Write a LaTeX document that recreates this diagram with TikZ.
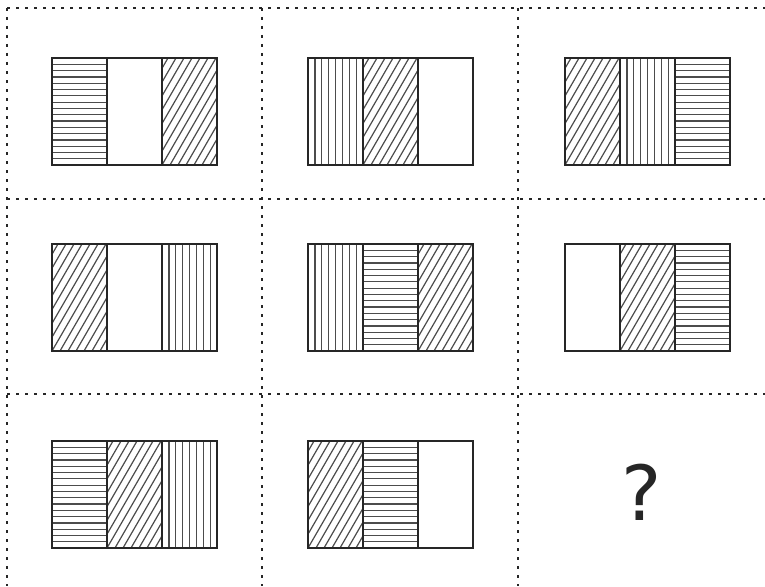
\documentclass[tikz,border=0pt]{standalone}
\usepackage{fontspec}
\newfontfamily\askfont{DejaVu Sans}
\usepackage{tikz}
\usetikzlibrary{positioning}

\tikzset{
  gridline/.style={line width=2.8pt, dash pattern=on 2.8pt off 6.2pt, black!85},
  frameline/.style={line width=2.4pt, black!85},
  hatchline/.style={line width=1.2pt, black!70}
}

% one strip of the figure: left x, top y
\newcommand{\hpanel}[2]{%
  \begin{scope}
    \clip (#1,#2) rectangle ++(55,107);
    \foreach \k in {1,...,16} \draw[hatchline] (#1,#2+\k*6.3) -- ++(55,0);
  \end{scope}
  \draw[frameline] (#1,#2) rectangle ++(55,107);}
\newcommand{\vpanel}[2]{%
  \begin{scope}
    \clip (#1,#2) rectangle ++(55,107);
    \foreach \k in {1,...,7} \draw[hatchline] (#1+\k*6.9,#2) -- ++(0,107);
  \end{scope}
  \draw[frameline] (#1,#2) rectangle ++(55,107);}
\newcommand{\dpanel}[2]{%
  \begin{scope}
    \clip (#1,#2) rectangle ++(55,107);
    \foreach \k in {-9,...,8} \draw[hatchline] (#1+\k*8,#2+107) -- ++(62,-107);
  \end{scope}
  \draw[frameline] (#1,#2) rectangle ++(55,107);}
\newcommand{\epanel}[2]{%
  \draw[frameline] (#1,#2) rectangle ++(55,107);}

% three strips side by side
\newcommand{\tripanel}[5]{%
  #3{#1}{#2}%
  #4{\the\numexpr#1+55\relax}{#2}%
  #5{\the\numexpr#1+110\relax}{#2}}

\begin{document}
\begin{tikzpicture}[x=1pt, y=-1pt]
  \useasboundingbox[fill=white] (0,0) rectangle (765,586);

  % Dotted grid
  \draw[gridline] (7,8) -- (765,8);
  \draw[gridline] (7,199) -- (765,199);
  \draw[gridline] (7,394) -- (765,394);
  \draw[gridline] (7,8) -- (7,586);
  \draw[gridline] (262,8) -- (262,586);
  \draw[gridline] (518,8) -- (518,586);

  % --- Row 1 ---
  \tripanel{52}{58}{\hpanel}{\epanel}{\dpanel}
  \tripanel{308}{58}{\vpanel}{\dpanel}{\epanel}
  \tripanel{565}{58}{\dpanel}{\vpanel}{\hpanel}

  % --- Row 2 ---
  \tripanel{52}{244}{\dpanel}{\epanel}{\vpanel}
  \tripanel{308}{244}{\vpanel}{\hpanel}{\dpanel}
  \tripanel{565}{244}{\epanel}{\dpanel}{\hpanel}

  % --- Row 3 ---
  \tripanel{52}{441}{\hpanel}{\dpanel}{\vpanel}
  \tripanel{308}{441}{\dpanel}{\hpanel}{\epanel}

  % Missing figure
  \node[font=\askfont\fontsize{76}{76}\selectfont, black!85] (ask) at (642,492) {?};
\end{tikzpicture}
\end{document}
